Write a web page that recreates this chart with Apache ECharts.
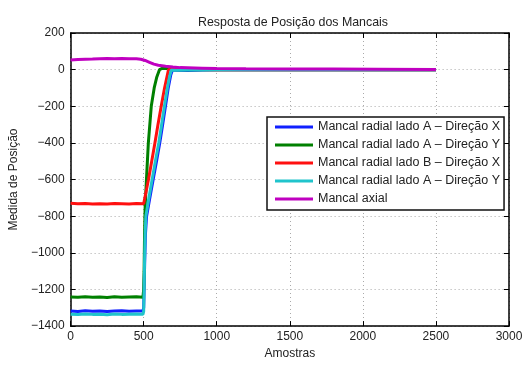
<!DOCTYPE html>
<html>
<head>
<meta charset="utf-8">
<script src="https://cdn.jsdelivr.net/npm/echarts@6/dist/echarts.min.js"></script>
<style>html,body{margin:0;padding:0;background:#fff;}#c{width:531px;height:365px;}</style>
</head>
<body>
<div id="c"></div>
<script>
// ---- data ----
const seriesNames = [
  'Mancal radial lado A – Direção X',
  'Mancal radial lado A – Direção Y',
  'Mancal radial lado B – Direção X',
  'Mancal radial lado A – Direção Y\u200b',
  'Mancal axial'
];
const blueX  = [0, 50, 100, 150, 200, 250, 300, 350, 400, 450, 495, 500, 503, 507, 512, 520, 542, 565, 588, 610, 630, 649, 668, 685, 697, 720, 800, 900, 1000, 1500, 2000, 2500];
const blueY  = [-1318, -1320, -1316, -1319, -1317, -1320, -1318, -1316, -1319, -1318, -1318, -1300, -1200, -1050, -900, -800, -700, -600, -500, -400, -300, -200, -100, -30, -2, -4, -5, -2, 0, 0, 0, 0];
const greenX = [0, 50, 100, 150, 200, 250, 300, 350, 400, 450, 495, 500, 503, 506, 510, 519, 532, 552, 572, 590, 608, 630, 660, 700, 1000, 1500, 2000, 2500];
const greenY = [-1241, -1243, -1240, -1242, -1241, -1244, -1240, -1242, -1241, -1240, -1242, -1200, -1100, -900, -750, -600, -400, -200, -100, -40, 0, 8, 6, 0, 0, 0, 0, 0];
const redX   = [0, 50, 100, 150, 200, 250, 300, 350, 400, 450, 500, 507, 533, 555, 577, 598, 620, 643, 670, 700, 1000, 1500, 2000, 2500];
const redY   = [-730, -732, -731, -733, -732, -734, -731, -732, -733, -731, -732, -725, -600, -500, -400, -300, -200, -100, 0, 4, 0, 0, 0, 0];
const cyanX  = [0, 50, 100, 150, 200, 250, 300, 350, 400, 450, 495, 500, 503, 506, 510, 515, 536, 558, 580, 603, 623, 642, 662, 678, 689, 720, 800, 1000, 1500, 2000, 2500];
const cyanY  = [-1335, -1337, -1334, -1336, -1335, -1338, -1334, -1336, -1335, -1334, -1336, -1320, -1200, -1050, -900, -800, -700, -600, -500, -400, -300, -200, -100, -35, -2, -3, -2, 0, 0, 0, 0];
const magX   = [0, 50, 100, 150, 200, 250, 300, 350, 400, 450, 480, 510, 540, 570, 600, 650, 700, 750, 800, 900, 1000, 1200, 1500, 1800, 2100, 2500];
const magY   = [52, 55, 57, 58, 60, 61, 60, 61, 60, 60, 57, 50, 40, 30, 24, 18, 14, 11, 10, 8, 6, 5, 4, 3, 2, 1];
const xTicks = {min: 0, max: 3000, interval: 500};
const yTicks = {min: -1400, max: 200, interval: 200};

const colors = ['#1020ff', '#008000', '#ff1010', '#20c4cc', '#c000c0'];
const pairs = (xs, ys) => xs.map((x, i) => [x, ys[i]]);
const allData = [pairs(blueX, blueY), pairs(greenX, greenY), pairs(redX, redY), pairs(cyanX, cyanY), pairs(magX, magY)];

const font = 'Liberation Sans, Arial, Helvetica, sans-serif';
const txt = '#222';
const plain = v => String(v).replace('-', '\u2212');

const chart = echarts.init(document.getElementById('c'), null, {renderer: 'canvas'});
chart.setOption({
  animation: false,
  backgroundColor: '#fff',
  title: {
    text: 'Resposta de Posição dos Mancais',
    left: 288, top: 12, textAlign: 'center',
    textStyle: {fontFamily: font, fontSize: 12.4, fontWeight: 'normal', color: txt}
  },
  grid: {left: 68, right: 22, top: 33, bottom: 32, containLabel: false},
  legend: {
    orient: 'vertical',
    left: 267, top: 117,
    padding: [3, 4, 4, 8],
    itemGap: 4,
    itemWidth: 38, itemHeight: 3,
    icon: 'rect',
    backgroundColor: '#fff',
    borderColor: '#111', borderWidth: 1.5,
    textStyle: {fontFamily: font, fontSize: 12.5, color: txt, lineHeight: 14},
    data: seriesNames.map((n, i) => ({name: n, itemStyle: {color: colors[i]}}))
  },
  xAxis: [{
    type: 'value', min: xTicks.min, max: xTicks.max, interval: xTicks.interval,
    name: 'Amostras', nameLocation: 'middle', nameGap: 18,
    nameTextStyle: {fontFamily: font, fontSize: 12, color: txt},
    axisLine: {onZero: false, lineStyle: {color: '#000', width: 1.5}},
    axisTick: {inside: true, length: 5, lineStyle: {color: '#000'}},
    axisLabel: {fontFamily: font, fontSize: 12, color: txt, margin: 5, formatter: plain},
    splitLine: {show: true, lineStyle: {color: '#aaa', type: [1, 3], width: 1}}
  }, {
    type: 'value', position: 'top', min: xTicks.min, max: xTicks.max, interval: xTicks.interval,
    axisLine: {onZero: false, lineStyle: {color: '#000', width: 1.5}},
    axisTick: {inside: true, length: 5, lineStyle: {color: '#000'}},
    axisLabel: {show: false}, splitLine: {show: false}
  }],
  yAxis: [{
    type: 'value', min: yTicks.min, max: yTicks.max, interval: yTicks.interval,
    name: 'Medida de Posição', nameLocation: 'middle', nameGap: 44,
    nameTextStyle: {fontFamily: font, fontSize: 12, color: txt},
    axisLine: {onZero: false, lineStyle: {color: '#000', width: 1.5}},
    axisTick: {inside: true, length: 5, lineStyle: {color: '#000'}},
    axisLabel: {fontFamily: font, fontSize: 12, color: txt, margin: 6, formatter: plain},
    splitLine: {show: true, lineStyle: {color: '#aaa', type: [1, 3], width: 1}}
  }, {
    type: 'value', position: 'right', min: yTicks.min, max: yTicks.max, interval: yTicks.interval,
    axisLine: {onZero: false, lineStyle: {color: '#000', width: 1.5}},
    axisTick: {inside: true, length: 5, lineStyle: {color: '#000'}},
    axisLabel: {show: false}, splitLine: {show: false}
  }],
  series: allData.map((d, i) => ({
    name: seriesNames[i],
    type: 'line',
    data: d,
    showSymbol: false,
    symbol: 'none',
    color: colors[i],
    lineStyle: {width: 3, color: colors[i]},
    z: 2 + i
  }))
});
</script>
</body>
</html>
